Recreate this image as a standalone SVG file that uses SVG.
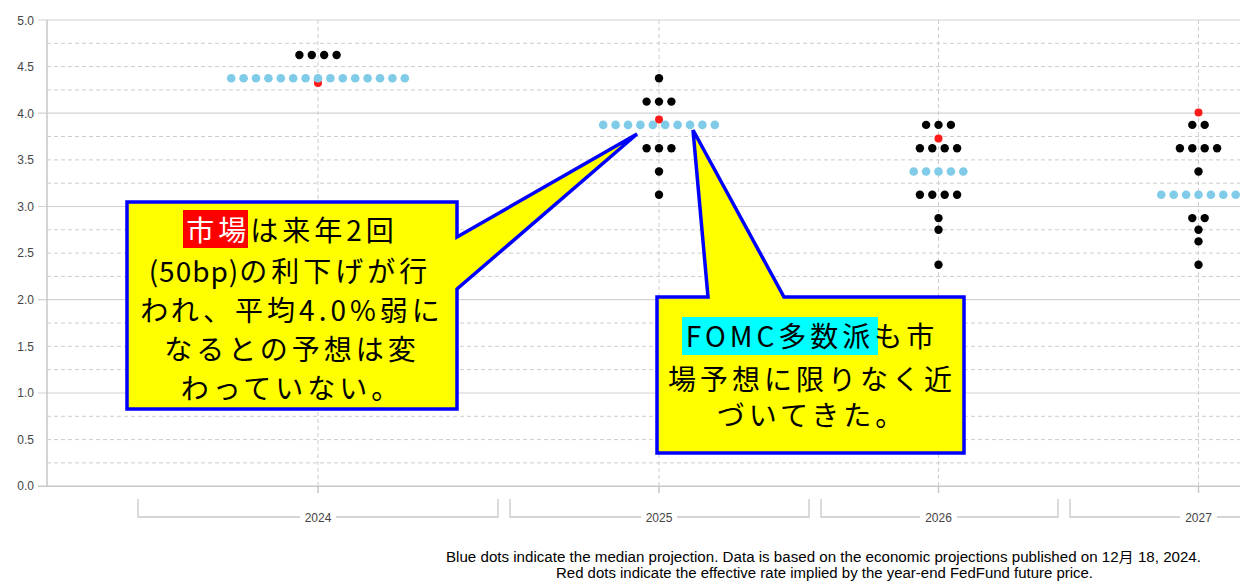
<svg xmlns="http://www.w3.org/2000/svg" width="1240" height="581" viewBox="0 0 1240 581">
<style>
.gs{stroke:#d2d2d2;stroke-width:1.2;fill:none}
.gd{stroke:#cdcdcd;stroke-width:1;stroke-dasharray:4 3;fill:none}
.ax{stroke:#c8c8c8;stroke-width:1.5;fill:none}
.lab{font-family:"Liberation Sans",Arial,sans-serif;font-size:12px;fill:#444;text-anchor:end}
.yr{font-family:"Liberation Sans",Arial,sans-serif;font-size:12px;fill:#444;text-anchor:middle}
.k{fill:#000}
.b{fill:#7fcbe8}
.r{fill:#ff1a1a}
.co{fill:#ffff00;stroke:#0000ff;stroke-width:3.5;stroke-linejoin:miter}
.ct{font-family:"Noto Sans CJK JP","Noto Sans",sans-serif;font-size:28px;fill:#000;text-anchor:middle;letter-spacing:4px}
.ft{font-family:"Liberation Sans","Noto Sans CJK JP",sans-serif;font-size:14px;fill:#000}
</style>
<rect width="1240" height="581" fill="#fff"/>
<g id="grid">
<path class="gd" d="M47,43.3H1240M47,66.6H1240M47,89.9H1240M47,136.5H1240M47,159.9H1240M47,183.2H1240M47,229.8H1240M47,253.1H1240M47,276.4H1240M47,323H1240M47,346.3H1240M47,369.6H1240M47,416.3H1240M47,439.6H1240M47,462.9H1240"/>
<path class="gs" d="M38,20H1240M38,113.2H1240M38,206.5H1240M38,299.7H1240M38,393H1240"/>
<path class="gd" d="M318,20V486M659,20V486M938.5,20V486M1198.5,20V486"/>
<path class="ax" d="M47,20V486.2M38,486.2H1240M318,486V493M659,486V493M938.5,486V493M1198.5,486V493"/>
</g>
<g id="y-labels">
<text class="lab" x="34" y="25">5.0</text>
<text class="lab" x="34" y="71">4.5</text>
<text class="lab" x="34" y="118">4.0</text>
<text class="lab" x="34" y="164">3.5</text>
<text class="lab" x="34" y="211">3.0</text>
<text class="lab" x="34" y="257">2.5</text>
<text class="lab" x="34" y="304">2.0</text>
<text class="lab" x="34" y="351">1.5</text>
<text class="lab" x="34" y="397">1.0</text>
<text class="lab" x="34" y="444">0.5</text>
<text class="lab" x="34" y="490">0.0</text>
</g>
<g id="x-axis">
<path class="ax" d="M138,499V517H498V499M510,499V517H809V499M821,499V517H1058V499M1070,499V517H1245" style="stroke-width:1.3"/>
<rect x="300" y="509" width="36" height="16" fill="#fff"/>
<rect x="641" y="509" width="36" height="16" fill="#fff"/>
<rect x="920" y="509" width="37" height="16" fill="#fff"/>
<rect x="1180" y="509" width="37" height="16" fill="#fff"/>
<text class="yr" x="318" y="522">2024</text>
<text class="yr" x="659" y="522">2025</text>
<text class="yr" x="938.5" y="522">2026</text>
<text class="yr" x="1198.5" y="522">2027</text>
</g>
<g id="dots-2024">
<circle class="k" cx="299.4" cy="55" r="4.2"/><circle class="k" cx="311.8" cy="55" r="4.2"/><circle class="k" cx="324.2" cy="55" r="4.2"/><circle class="k" cx="336.6" cy="55" r="4.2"/>
<circle class="r" cx="318" cy="83" r="4"/>
<circle class="b" cx="231.2" cy="78.3" r="4.3"/><circle class="b" cx="243.6" cy="78.3" r="4.3"/><circle class="b" cx="256" cy="78.3" r="4.3"/><circle class="b" cx="268.4" cy="78.3" r="4.3"/><circle class="b" cx="280.8" cy="78.3" r="4.3"/><circle class="b" cx="293.2" cy="78.3" r="4.3"/><circle class="b" cx="305.6" cy="78.3" r="4.3"/><circle class="b" cx="318" cy="78.3" r="4.3"/><circle class="b" cx="330.4" cy="78.3" r="4.3"/><circle class="b" cx="342.8" cy="78.3" r="4.3"/><circle class="b" cx="355.2" cy="78.3" r="4.3"/><circle class="b" cx="367.6" cy="78.3" r="4.3"/><circle class="b" cx="380" cy="78.3" r="4.3"/><circle class="b" cx="392.4" cy="78.3" r="4.3"/><circle class="b" cx="404.8" cy="78.3" r="4.3"/>
</g>
<g id="dots-2025">
<circle class="k" cx="659" cy="78.3" r="4.2"/>
<circle class="k" cx="646.6" cy="101.6" r="4.2"/><circle class="k" cx="659" cy="101.6" r="4.2"/><circle class="k" cx="671.4" cy="101.6" r="4.2"/>
<circle class="r" cx="659" cy="119.5" r="4"/>
<circle class="b" cx="603.2" cy="124.9" r="4.3"/><circle class="b" cx="615.6" cy="124.9" r="4.3"/><circle class="b" cx="628" cy="124.9" r="4.3"/><circle class="b" cx="640.4" cy="124.9" r="4.3"/><circle class="b" cx="652.8" cy="124.9" r="4.3"/><circle class="b" cx="665.2" cy="124.9" r="4.3"/><circle class="b" cx="677.6" cy="124.9" r="4.3"/><circle class="b" cx="690" cy="124.9" r="4.3"/><circle class="b" cx="702.4" cy="124.9" r="4.3"/><circle class="b" cx="714.8" cy="124.9" r="4.3"/>
<circle class="k" cx="646.6" cy="148.2" r="4.2"/><circle class="k" cx="659" cy="148.2" r="4.2"/><circle class="k" cx="671.4" cy="148.2" r="4.2"/>
<circle class="k" cx="659" cy="171.5" r="4.2"/>
<circle class="k" cx="659" cy="194.8" r="4.2"/>
</g>
<g id="dots-2026">
<circle class="k" cx="926.1" cy="124.9" r="4.2"/><circle class="k" cx="938.5" cy="124.9" r="4.2"/><circle class="k" cx="950.9" cy="124.9" r="4.2"/>
<circle class="r" cx="938.5" cy="138.4" r="4"/>
<circle class="k" cx="919.9" cy="148.2" r="4.2"/><circle class="k" cx="932.3" cy="148.2" r="4.2"/><circle class="k" cx="944.7" cy="148.2" r="4.2"/><circle class="k" cx="957.1" cy="148.2" r="4.2"/>
<circle class="b" cx="913.7" cy="171.5" r="4.3"/><circle class="b" cx="926.1" cy="171.5" r="4.3"/><circle class="b" cx="938.5" cy="171.5" r="4.3"/><circle class="b" cx="950.9" cy="171.5" r="4.3"/><circle class="b" cx="963.3" cy="171.5" r="4.3"/>
<circle class="k" cx="919.9" cy="194.8" r="4.2"/><circle class="k" cx="932.3" cy="194.8" r="4.2"/><circle class="k" cx="944.7" cy="194.8" r="4.2"/><circle class="k" cx="957.1" cy="194.8" r="4.2"/>
<circle class="k" cx="938.5" cy="218.1" r="4.2"/>
<circle class="k" cx="938.5" cy="229.8" r="4.2"/>
<circle class="k" cx="938.5" cy="264.8" r="4.2"/>
</g>
<g id="dots-2027">
<circle class="r" cx="1198.5" cy="112.6" r="4"/>
<circle class="k" cx="1192.3" cy="124.9" r="4.2"/><circle class="k" cx="1204.7" cy="124.9" r="4.2"/>
<circle class="k" cx="1179.9" cy="148.2" r="4.2"/><circle class="k" cx="1192.3" cy="148.2" r="4.2"/><circle class="k" cx="1204.7" cy="148.2" r="4.2"/><circle class="k" cx="1217.1" cy="148.2" r="4.2"/>
<circle class="k" cx="1198.5" cy="171.5" r="4.2"/>
<circle class="b" cx="1161.3" cy="194.8" r="4.3"/><circle class="b" cx="1173.7" cy="194.8" r="4.3"/><circle class="b" cx="1186.1" cy="194.8" r="4.3"/><circle class="b" cx="1198.5" cy="194.8" r="4.3"/><circle class="b" cx="1210.9" cy="194.8" r="4.3"/><circle class="b" cx="1223.3" cy="194.8" r="4.3"/><circle class="b" cx="1235.7" cy="194.8" r="4.3"/>
<circle class="k" cx="1192.3" cy="218.1" r="4.2"/><circle class="k" cx="1204.7" cy="218.1" r="4.2"/>
<circle class="k" cx="1198.5" cy="229.8" r="4.2"/>
<circle class="k" cx="1198.5" cy="241.4" r="4.2"/>
<circle class="k" cx="1198.5" cy="264.8" r="4.2"/>
</g>
<g id="callout-market">
<path class="co" d="M127,202H457V237L637,134L457,289V409H127Z"/>
<rect x="183" y="210" width="65" height="38" fill="#ff0000"/>
<text class="ct" x="292" y="240.5"><tspan fill="#fff">市場</tspan>は来年2回</text>
<text class="ct" x="290" y="281.5"><tspan style="letter-spacing:1px">(50bp)</tspan>の利下げが行</text>
<text class="ct" x="292" y="320.5">われ、平均4.0%弱に</text>
<text class="ct" x="292" y="359.5">なるとの予想は変</text>
<text class="ct" x="292" y="398.5">わっていない。</text>
</g>
<g id="callout-fomc">
<path class="co" d="M657,297H708L693,130L784,297H964V453H657Z"/>
<rect x="682" y="317" width="196" height="38" fill="#00ffff"/>
<text class="ct" x="812" y="347">FOMC多数派も市</text>
<text class="ct" x="812" y="390">場予想に限りなく近</text>
<text class="ct" x="812" y="426">づいてきた。</text>
</g>
<g id="footer">
<text class="ft" x="446" y="562" textLength="755" lengthAdjust="spacingAndGlyphs">Blue dots indicate the median projection. Data is based on the economic projections published on 12月 18, 2024.</text>
<text class="ft" x="556" y="578" textLength="537" lengthAdjust="spacingAndGlyphs">Red dots indicate the effective rate implied by the year-end FedFund future price.</text>
</g>
</svg>
